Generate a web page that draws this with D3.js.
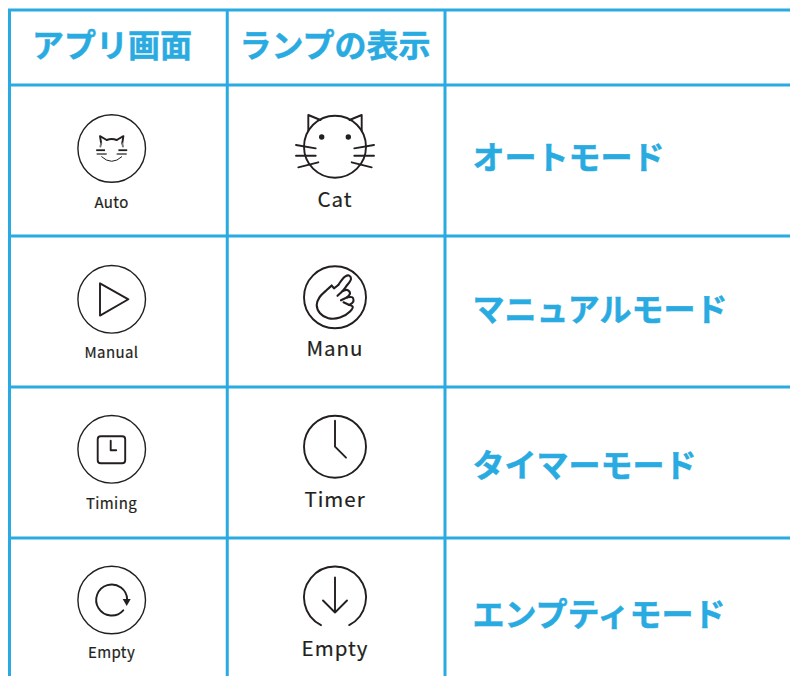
<!DOCTYPE html>
<meta charset="utf-8">
<style>
body { margin: 0; background: #fff; }
text { font-family: "Noto Sans CJK JP", "Noto Sans", sans-serif; }
.head { font-weight: 700; fill: #29abe2; stroke: #29abe2; stroke-width: 0.5; }
.cap { fill: #231f20; text-anchor: middle; font-weight: 400; stroke: #231f20; stroke-width: 0.2; }
.ico { fill: none; stroke: #231f20; stroke-width: 1.9; stroke-linecap: round; stroke-linejoin: round; }
</style>
<svg width="790" height="676" id="table"></svg>
<script src="https://d3js.org/d3.v7.min.js"></script>
<script>
var headers = ["アプリ画面", "ランプの表示", ""];
var modes = ["オートモード", "マニュアルモード", "タイマーモード", "エンプティモード"];
var appLabels = ["Auto", "Manual", "Timing", "Empty"];
var lampLabels = ["Cat", "Manu", "Timer", "Empty"];
var columns = ["app", "lamp", "mode"];

var svg = d3.select("#table");
var blue = "#29abe2";

// rows are measured in row heights, the header is half a row
var y = d3.scaleLinear().domain([0, 1]).range([85, 236]);
var x = d3.scalePoint().domain(columns).range([9.5, 445]);
var rows = d3.range(modes.length);

var grid = svg.append("g").attr("stroke", blue).attr("stroke-width", 3);
grid.selectAll("line.h")
  .data([-0.497].concat(rows))
  .enter().append("line").attr("class", "h")
    .attr("x1", 8).attr("x2", 790)
    .attr("y1", d => y(d)).attr("y2", d => y(d));
grid.selectAll("line.v")
  .data(columns)
  .enter().append("line").attr("class", "v")
    .attr("x1", d => x(d)).attr("x2", d => x(d))
    .attr("y1", 9).attr("y2", 676);

var colMid = [112, 335];

svg.selectAll("text.hd")
  .data(headers)
  .enter().append("text").attr("class", "head hd")
    .attr("x", (d, i) => colMid[i])
    .attr("y", 56.5)
    .attr("text-anchor", "middle")
    .attr("font-size", 32)
    .text(d => d);

var modeDy = [84, 85, 90, 88];
svg.selectAll("text.md")
  .data(modes)
  .enter().append("text").attr("class", "head md")
    .attr("x", 472.5)
    .attr("y", (d, i) => y(i) + modeDy[i])
    .attr("font-size", 32)
    .text(d => d);

var appDy = [122.5, 121.5, 121.5, 120];
svg.selectAll("text.al")
  .data(appLabels)
  .enter().append("text").attr("class", "cap al")
    .attr("x", 111.5)
    .attr("y", (d, i) => y(i) + appDy[i])
    .attr("font-size", 15)
    .attr("letter-spacing", 0.4)
    .text(d => d);

var lampDy = [121.5, 119.5, 119.5, 117.5];
svg.selectAll("text.ll")
  .data(lampLabels)
  .enter().append("text").attr("class", "cap ll")
    .attr("x", 335)
    .attr("y", (d, i) => y(i) + lampDy[i])
    .attr("font-size", 20.5)
    .attr("letter-spacing", 1)
    .text(d => d);

var line = d3.line();
var smooth = d3.line().curve(d3.curveCatmullRom);
function pair(g, fn) {
  fn(g.append("g"));
  fn(g.append("g").attr("transform", "scale(-1,1)"));
}
function icon(cx, cy) {
  return svg.append("g").attr("class", "ico").attr("transform", `translate(${cx},${cy})`);
}

var appY = [148.5, 299.3, 449.3, 600];
appY.forEach(function (cy) {
  icon(111.7, cy).append("circle").attr("r", 33.8).attr("stroke-width", 1.4);
});

// Auto
var a = icon(111.7, 148.5).attr("stroke-width", 0.8);
pair(a, function (g) {
  g.append("path").attr("d", line([[-10.5, -5], [-11.7, -12.3], [-5, -8.5]]));
  g.append("path").attr("d", line([[-15.5, 1.7], [-6.7, 1.7]])).attr("stroke-width", 1.8).attr("stroke-linecap", "butt");
  g.append("path").attr("d", line([[-14.3, 5.5], [-5.7, 5.5]])).attr("stroke", "#777");
  g.append("path").attr("d", "M-10.5,-5L-11.3,-2").attr("stroke", "#777");
});
a.append("path").attr("d", "M-5,-8.5Q0,-10.5 5,-8.5");
a.append("path").attr("d", "M-10,8.3Q0,17.5 10,8.3").attr("stroke-width", 1);

// Manual
icon(111.7, 299.3).attr("stroke-width", 1.7)
  .append("path").attr("d", line([[-11.7, -16], [-11.7, 16.3], [16.7, 0]]) + "Z");

// Timing
var t = icon(111.7, 449.3).attr("stroke-width", 2);
t.append("rect").attr("x", -14).attr("y", -13).attr("width", 27.5).attr("height", 27).attr("rx", 3);
t.append("path").attr("d", "M-1,-8.5V1H4.5");

// Empty
var e = icon(111.7, 600).attr("stroke-width", 1.8);
e.append("path").attr("d", d3.arc().innerRadius(15.5).outerRadius(15.5).startAngle(2.3).endAngle(7.85)());
e.append("path").attr("d", "M11,-1H19L15,6Z").attr("fill", "#231f20").attr("stroke", "none");

// lamp icons
var c = icon(335, 146.7);
c.append("circle").attr("r", 31);
pair(c, function (g) {
  g.append("path").attr("d", line([[-26.7, -16], [-26.7, -31.7], [-14.5, -26.7]]));
  g.append("circle").attr("cx", -13.3).attr("cy", -9.7).attr("r", 2.7).attr("fill", "#231f20").attr("stroke", "none");
  g.append("path").attr("d", line([[-39, -1.7], [-19.3, 1.7]]));
  g.append("path").attr("d", line([[-39, 9], [-19.3, 9]]));
  g.append("path").attr("d", line([[-36.7, 20.6], [-16.7, 15.6]]));
});

var m = icon(335, 297.3);
m.append("circle").attr("r", 31);
var hand = m.append("g").attr("stroke-width", 2.1);
hand.append("path").attr("d", smooth([[3.3, -12.3], [10, -20.7], [14.3, -21.7], [16, -18.3], [11, -10.7], [7.7, -6.3]]));
hand.append("path").attr("d", smooth([[7.7, -6.3], [12.3, -7.3], [15, -4], [12.3, 0]]));
hand.append("path").attr("d", smooth([[12.3, 0], [17.3, 0], [18.3, 4.3], [14.3, 7.7]]));
hand.append("path").attr("d", smooth([[14.3, 7.7], [17.7, 9.3], [15, 14.3], [5, 20.3], [-6.7, 21], [-15, 16], [-18.3, 7.7], [-15.7, 0.3], [-8.3, -7.3], [-3.3, -11.7]]));
hand.append("path").attr("d", line([[-3.3, -11.7], [-1, -9], [3.3, -12.3]]));
hand.append("path").attr("d", line([[7.7, -6.3], [2.5, -1.5]]));
hand.append("path").attr("d", line([[12.3, 0], [6, 3]]));
hand.append("path").attr("d", line([[14.3, 7.7], [8.5, 5]]));

var k = icon(335, 446.7);
k.append("circle").attr("r", 31);
k.append("path").attr("d", "M0,-26V0L11,11");

var n = icon(335, 597.5);
n.append("path").attr("d", d3.arc().innerRadius(31).outerRadius(31).startAngle(3.61).endAngle(8.95)());
n.append("path").attr("d", "M0,-20V15M-12,3L0,15L12,3");
</script>
